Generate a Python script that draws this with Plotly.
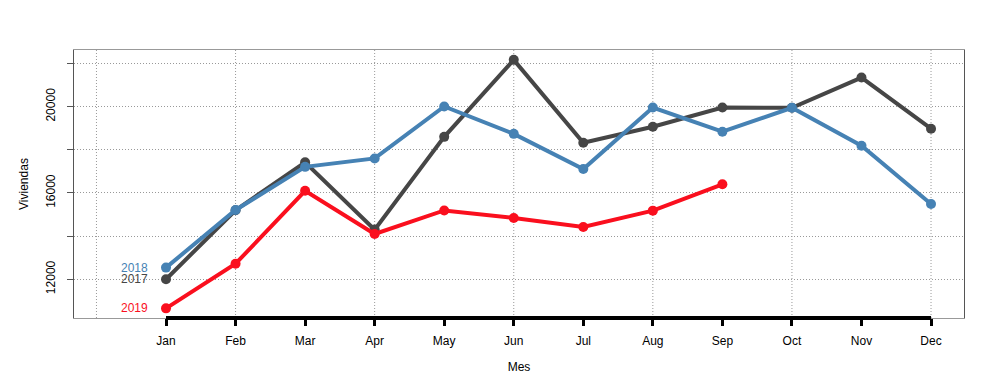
import plotly.graph_objects as go

months = list(range(1, 13))
month_labels = ["Jan", "Feb", "Mar", "Apr", "May", "Jun", "Jul", "Aug", "Sep", "Oct", "Nov", "Dec"]

v2017 = [12000, 15200, 17420, 14300, 18600, 22170, 18330, 19070, 19960, 19950, 21350, 18980]
v2018 = [12540, 15210, 17210, 17600, 20010, 18740, 17110, 19960, 18840, 19950, 18190, 15490]
v2019 = [10650, 12720, 16100, 14100, 15190, 14840, 14420, 15180, 16400]

series = [
    ("2017", v2017, "#464646"),
    ("2018", v2018, "#4682B4"),
    ("2019", v2019, "#FA0F1E"),
]

y_ticks = [12000, 14000, 16000, 18000, 20000, 22000]
y_ticktext = ["12000", "", "16000", "", "20000", ""]
x_grid = [0, 2, 4, 6, 8, 10, 12]

fig = go.Figure()
for name, vals, col in series:
    fig.add_trace(go.Scatter(
        x=months[:len(vals)], y=vals, mode="lines+markers", name=name,
        line=dict(color=col, width=4), marker=dict(color=col, size=10),
        showlegend=False, hoverinfo="skip",
    ))
    fig.add_annotation(x=months[0], y=vals[0], text=name, showarrow=False,
                       xanchor="right", xshift=-16, yshift=0,
                       font=dict(color=col, size=12, family="Liberation Sans"))

grid_dash = "1px,2px"
shapes = []
for g in x_grid:
    shapes.append(dict(type="line", xref="x", yref="paper", x0=g, x1=g, y0=0, y1=1,
                       line=dict(color="#999999", width=1, dash=grid_dash), layer="below"))
shapes.append(dict(type="line", xref="x", yref="paper", x0=months[0], x1=months[-1], y0=0, y1=0,
                   line=dict(color="black", width=4), layer="above"))

fig.update_layout(
    width=995, height=383,
    margin=dict(l=74, r=31, t=50, b=65),
    paper_bgcolor="white", plot_bgcolor="white",
    font=dict(family="Liberation Sans", size=12, color="black"),
    shapes=shapes,
    xaxis=dict(
        range=[-0.323, 12.474], tickvals=months, ticktext=month_labels,
        showgrid=False, zeroline=False, automargin=False,
        showline=True, linecolor="#999999", linewidth=1, mirror=True,
        ticks="outside", ticklen=7, tickwidth=3, tickcolor="black",
        ticklabelstandoff=5,
        title=dict(text="Mes", standoff=15, font=dict(size=12)),
    ),
    yaxis=dict(
        range=[10203, 22627], tickvals=y_ticks, ticktext=y_ticktext,
        tickangle=-90, showgrid=True, gridcolor="#999999", griddash=grid_dash, gridwidth=1,
        zeroline=False, showline=True, linecolor="#555555", linewidth=1, mirror=True,
        ticks="outside", ticklen=6, tickwidth=1, tickcolor="#555555",
        ticklabelstandoff=7, automargin=False,
        title=dict(text="Viviendas", standoff=13, font=dict(size=12)),
    ),
)

fig.write_html("out.html", config={"displayModeBar": False},
               post_script="document.body.style.margin='0';")
